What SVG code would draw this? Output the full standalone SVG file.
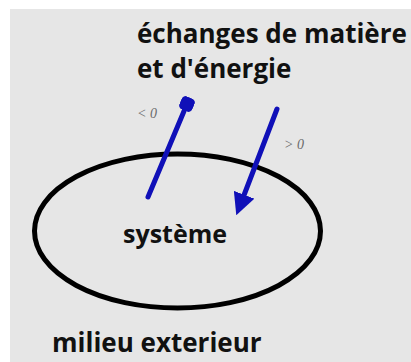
<svg xmlns="http://www.w3.org/2000/svg" width="411" height="362" viewBox="0 0 411 362">
<style>
.t{font-family:"Open Sans","Liberation Sans",sans-serif;font-weight:bold;font-size:25px;fill:#111}
.w{font-size:26px}
.s{font-family:"Liberation Serif",serif;font-style:italic;font-size:14px;fill:#6a6a6a}
.a{stroke:#1010b8;stroke-width:5;fill:none;stroke-linecap:round}
</style>
<defs>
<marker id="tri" viewBox="0 0 10 10" refX="4" refY="5" markerWidth="4.4" markerHeight="4.4" orient="auto" markerUnits="strokeWidth">
<path d="M0,0 L10,5 L0,10 Z" fill="#1010b8"/>
</marker>
<marker id="blob" viewBox="0 0 10 10" refX="5" refY="5" markerWidth="2.8" markerHeight="2.8" orient="auto" markerUnits="strokeWidth">
<rect x="0" y="0" width="10" height="10" rx="3" fill="#1010b8"/>
</marker>
</defs>
<rect x="0" y="0" width="411" height="362" fill="#fff"/>
<rect x="10" y="9" width="401" height="353" fill="#e6e6e6"/>
<g id="systeme">
<ellipse cx="177.5" cy="231" rx="143" ry="77" fill="none" stroke="#000" stroke-width="5"/>
<text class="t" x="123" y="243">système</text>
</g>
<g id="echanges">
<text class="t w" x="137" y="43">échanges de matière</text>
<text class="t w" x="137" y="78">et d'énergie</text>
</g>
<g id="milieu">
<text class="t w" x="52" y="352">milieu exterieur</text>
</g>
<g id="connectors">
<line class="a" x1="148" y1="197" x2="187" y2="104" marker-end="url(#blob)"/>
<line class="a" x1="277" y1="109" x2="241" y2="203" marker-end="url(#tri)"/>
<text class="s" x="137" y="118">&lt; 0</text>
<text class="s" x="284" y="149">&gt; 0</text>
</g>
</svg>
